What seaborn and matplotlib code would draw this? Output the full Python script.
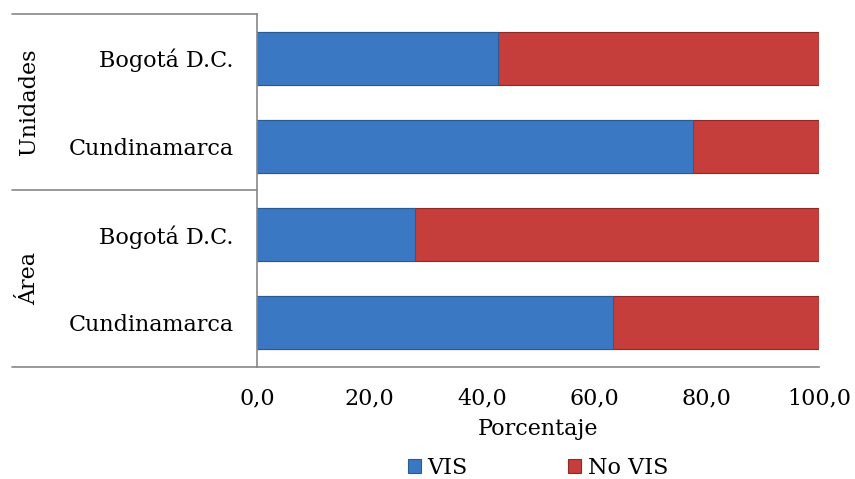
import pandas as pd
import matplotlib.pyplot as plt
import seaborn as sns

# Values (percent)
groups = ['Unidades', 'Unidades', 'Área', 'Área']
places = ['Bogotá D.C.', 'Cundinamarca', 'Bogotá D.C.', 'Cundinamarca']
vis = [42.9, 77.6, 28.1, 63.3]
no_vis = [57.1, 22.4, 71.9, 36.7]
x_ticks = [0, 20, 40, 60, 80, 100]

df = pd.DataFrame({'grupo': groups, 'lugar': places, 'VIS': vis, 'No VIS': no_vis})
df['key'] = df['grupo'] + '|' + df['lugar']
df['total'] = df['VIS'] + df['No VIS']

sns.set_theme(style='white')
plt.rcParams['font.family'] = ['DejaVu Serif']
plt.rcParams['text.color'] = 'black'
plt.rcParams['xtick.labelcolor'] = 'black'
plt.rcParams['ytick.labelcolor'] = 'black'
plt.rcParams['axes.labelcolor'] = 'black'
fs = 16

fig = plt.figure(figsize=(8.55, 4.79), dpi=100)
ax = fig.add_axes([0.3006, 0.2338, 0.6573, 0.7370])

blue = '#3B78C3'
red = '#C53E3B'

# stacked: red total underneath, blue VIS on top
sns.barplot(data=df, x='total', y='key', color=red, width=0.6, orient='h', saturation=1,
            edgecolor='#8E2A28', linewidth=0.8, ax=ax, label='No VIS')
sns.barplot(data=df, x='VIS', y='key', color=blue, width=0.6, orient='h', saturation=1,
            edgecolor='#2C5A93', linewidth=0.8, ax=ax, label='VIS')

ax.set_xlim(0, 100)
ax.set_ylim(3.5, -0.5)
ax.set_xticks(x_ticks)
ax.set_xticklabels([f'{t:.1f}'.replace('.', ',') for t in x_ticks], fontsize=fs)
ax.set_yticks(range(len(places)))
ax.set_yticklabels(places, fontsize=fs)
ax.set_xlabel('Porcentaje', fontsize=fs, labelpad=6)
ax.set_ylabel('')

ax.tick_params(axis='x', direction='out', length=5, width=1, color='#888888', pad=10)
ax.tick_params(axis='y', length=0, pad=17)

for s in ['top', 'right']:
    ax.spines[s].set_visible(False)
for s in ['left', 'bottom']:
    ax.spines[s].set_color('#888888')
    ax.spines[s].set_linewidth(1.2)

# multi-level category axis: group separators and group names
left_edge = (12 - 257) / 562
for yy in [-0.5, 1.5, 3.5]:
    ax.plot([left_edge, 0], [yy, yy], color='#888888', lw=1.2, clip_on=False,
            transform=ax.get_yaxis_transform())
for i, g in enumerate(['Unidades', 'Área']):
    ax.text(-0.405, 2 * i + 0.5, g, rotation=90, ha='center', va='center',
            fontsize=fs, transform=ax.get_yaxis_transform())

handles, labels = ax.get_legend_handles_labels()
order = [labels.index('VIS'), labels.index('No VIS')]
ax.legend([handles[i] for i in order], [labels[i] for i in order],
          loc='center', bbox_to_anchor=(0.5, -0.285), ncol=2, frameon=False,
          fontsize=fs, handlelength=0.6, handleheight=0.6, handletextpad=0.3,
          columnspacing=4.5, borderpad=0)

fig.savefig('out.png', dpi=100)
